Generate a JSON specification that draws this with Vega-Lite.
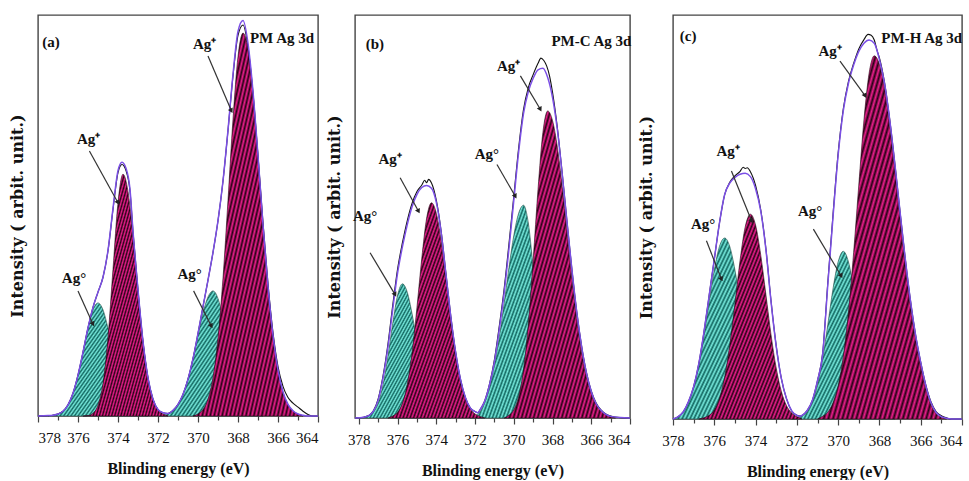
{
"$schema": "https://vega.github.io/schema/vega-lite/v6.json",
"background": "white",
"padding": {"left": 8, "top": 14, "right": 0, "bottom": 0},
"spacing": 3,
"config": {
  "view": {"stroke": "#444", "strokeWidth": 1.4},
  "axis": {"grid": false, "domain": false, "labelFont": "Liberation Serif", "labelFontSize": 15, "labelColor": "#111", "titleFont": "Liberation Serif", "titleFontWeight": "bold", "titleColor": "#111", "tickColor": "#444", "tickWidth": 1.2}
},
"datasets": {
"c": [
{"p":"a","s":"t1","e":377.5,"v":0},{"p":"a","s":"t1","e":377.25,"v":0.2},{"p":"a","s":"t1","e":377,"v":0.5},{"p":"a","s":"t1","e":376.75,"v":1.2},{"p":"a","s":"t1","e":376.5,"v":2.8},{"p":"a","s":"t1","e":376.25,"v":5.7},{"p":"a","s":"t1","e":376,"v":10.2},{"p":"a","s":"t1","e":375.75,"v":15.9},{"p":"a","s":"t1","e":375.5,"v":21.9},{"p":"a","s":"t1","e":375.25,"v":26.5},{"p":"a","s":"t1","e":375,"v":28.2},{"p":"a","s":"t1","e":374.75,"v":26.5},{"p":"a","s":"t1","e":374.5,"v":21.9},{"p":"a","s":"t1","e":374.25,"v":15.9},{"p":"a","s":"t1","e":374,"v":10.2},{"p":"a","s":"t1","e":373.75,"v":5.7},{"p":"a","s":"t1","e":373.5,"v":2.8},{"p":"a","s":"t1","e":373.25,"v":1.2},{"p":"a","s":"t1","e":373,"v":0.5},{"p":"a","s":"t1","e":372.75,"v":0.2},{"p":"a","s":"t1","e":372.5,"v":0},
{"p":"a","s":"m1","e":375.75,"v":0},{"p":"a","s":"m1","e":375.5,"v":0.1},{"p":"a","s":"m1","e":375.25,"v":0.7},{"p":"a","s":"m1","e":375,"v":2.7},{"p":"a","s":"m1","e":374.75,"v":8.1},{"p":"a","s":"m1","e":374.5,"v":19.6},{"p":"a","s":"m1","e":374.25,"v":36.6},{"p":"a","s":"m1","e":374,"v":53.2},{"p":"a","s":"m1","e":373.75,"v":60.3},{"p":"a","s":"m1","e":373.5,"v":56},{"p":"a","s":"m1","e":373.25,"v":44.9},{"p":"a","s":"m1","e":373,"v":31},{"p":"a","s":"m1","e":372.75,"v":18.5},{"p":"a","s":"m1","e":372.5,"v":9.5},{"p":"a","s":"m1","e":372.25,"v":4.2},{"p":"a","s":"m1","e":372,"v":1.6},{"p":"a","s":"m1","e":371.75,"v":0.5},{"p":"a","s":"m1","e":371.5,"v":0},
{"p":"a","s":"t2","e":372,"v":0},{"p":"a","s":"t2","e":371.75,"v":0.2},{"p":"a","s":"t2","e":371.5,"v":0.6},{"p":"a","s":"t2","e":371.25,"v":1.4},{"p":"a","s":"t2","e":371,"v":2.9},{"p":"a","s":"t2","e":370.75,"v":5.4},{"p":"a","s":"t2","e":370.5,"v":9.2},{"p":"a","s":"t2","e":370.25,"v":14.3},{"p":"a","s":"t2","e":370,"v":20.1},{"p":"a","s":"t2","e":369.75,"v":25.7},{"p":"a","s":"t2","e":369.5,"v":29.7},{"p":"a","s":"t2","e":369.25,"v":31.2},{"p":"a","s":"t2","e":369,"v":29.3},{"p":"a","s":"t2","e":368.75,"v":24.2},{"p":"a","s":"t2","e":368.5,"v":17.6},{"p":"a","s":"t2","e":368.25,"v":11.2},{"p":"a","s":"t2","e":368,"v":6.3},{"p":"a","s":"t2","e":367.75,"v":3.1},{"p":"a","s":"t2","e":367.5,"v":1.4},{"p":"a","s":"t2","e":367.25,"v":0.5},{"p":"a","s":"t2","e":367,"v":0.2},{"p":"a","s":"t2","e":366.75,"v":0},
{"p":"a","s":"m2","e":370.25,"v":0},{"p":"a","s":"m2","e":370,"v":0.5},{"p":"a","s":"m2","e":369.75,"v":1.6},{"p":"a","s":"m2","e":369.5,"v":4.2},{"p":"a","s":"m2","e":369.25,"v":9.6},{"p":"a","s":"m2","e":369,"v":19.4},{"p":"a","s":"m2","e":368.75,"v":34.4},{"p":"a","s":"m2","e":368.5,"v":53.8},{"p":"a","s":"m2","e":368.25,"v":74},{"p":"a","s":"m2","e":368,"v":89.6},{"p":"a","s":"m2","e":367.75,"v":95.5},{"p":"a","s":"m2","e":367.5,"v":91.5},{"p":"a","s":"m2","e":367.25,"v":80.3},{"p":"a","s":"m2","e":367,"v":64.8},{"p":"a","s":"m2","e":366.75,"v":47.8},{"p":"a","s":"m2","e":366.5,"v":32.4},{"p":"a","s":"m2","e":366.25,"v":20.2},{"p":"a","s":"m2","e":366,"v":11.5},{"p":"a","s":"m2","e":365.75,"v":6},{"p":"a","s":"m2","e":365.5,"v":2.9},{"p":"a","s":"m2","e":365.25,"v":1.3},{"p":"a","s":"m2","e":365,"v":0.5},{"p":"a","s":"m2","e":364.75,"v":0},
{"p":"a","s":"env","e":378,"v":0},{"p":"a","s":"env","e":377.5,"v":0.1},{"p":"a","s":"env","e":377.25,"v":0.2},{"p":"a","s":"env","e":377,"v":0.5},{"p":"a","s":"env","e":376.75,"v":1.2},{"p":"a","s":"env","e":376.5,"v":2.8},{"p":"a","s":"env","e":376.25,"v":5.7},{"p":"a","s":"env","e":376,"v":10.2},{"p":"a","s":"env","e":375.75,"v":15.9},{"p":"a","s":"env","e":375.5,"v":22},{"p":"a","s":"env","e":375.25,"v":27.1},{"p":"a","s":"env","e":375,"v":30.9},{"p":"a","s":"env","e":374.75,"v":34.6},{"p":"a","s":"env","e":374.5,"v":41.3},{"p":"a","s":"env","e":374.25,"v":51.8},{"p":"a","s":"env","e":374,"v":61.2},{"p":"a","s":"env","e":373.8,"v":63.3},{"p":"a","s":"env","e":373.6,"v":61.8},{"p":"a","s":"env","e":373.4,"v":56.5},{"p":"a","s":"env","e":373.25,"v":46.1},{"p":"a","s":"env","e":373,"v":31.5},{"p":"a","s":"env","e":372.75,"v":18.6},{"p":"a","s":"env","e":372.5,"v":9.5},{"p":"a","s":"env","e":372.25,"v":4.2},{"p":"a","s":"env","e":372,"v":1.6},{"p":"a","s":"env","e":371.75,"v":0.8},{"p":"a","s":"env","e":371.5,"v":0.6},{"p":"a","s":"env","e":371.25,"v":1.4},{"p":"a","s":"env","e":371,"v":2.9},{"p":"a","s":"env","e":370.75,"v":5.4},{"p":"a","s":"env","e":370.5,"v":9.2},{"p":"a","s":"env","e":370.25,"v":14.3},{"p":"a","s":"env","e":370,"v":20.6},{"p":"a","s":"env","e":369.75,"v":27.3},{"p":"a","s":"env","e":369.5,"v":33.9},{"p":"a","s":"env","e":369.25,"v":40.8},{"p":"a","s":"env","e":369,"v":48.7},{"p":"a","s":"env","e":368.75,"v":58.6},{"p":"a","s":"env","e":368.5,"v":71.3},{"p":"a","s":"env","e":368.25,"v":85.2},{"p":"a","s":"env","e":368,"v":95.9},{"p":"a","s":"env","e":367.75,"v":98.6},{"p":"a","s":"env","e":367.5,"v":92.9},{"p":"a","s":"env","e":367.25,"v":80.9},{"p":"a","s":"env","e":367,"v":64.9},{"p":"a","s":"env","e":366.75,"v":47.8},{"p":"a","s":"env","e":366.5,"v":32.4},{"p":"a","s":"env","e":366.25,"v":20.2},{"p":"a","s":"env","e":366,"v":11.5},{"p":"a","s":"env","e":365.75,"v":6},{"p":"a","s":"env","e":365.5,"v":2.9},{"p":"a","s":"env","e":365.25,"v":1.3},{"p":"a","s":"env","e":365,"v":0.5},{"p":"a","s":"env","e":364.75,"v":0.2},{"p":"a","s":"env","e":364.5,"v":0},{"p":"a","s":"env","e":364,"v":0},
{"p":"a","s":"exp","e":378,"v":0},{"p":"a","s":"exp","e":377.5,"v":0.1},{"p":"a","s":"exp","e":377.25,"v":0.2},{"p":"a","s":"exp","e":377,"v":0.5},{"p":"a","s":"exp","e":376.75,"v":1.2},{"p":"a","s":"exp","e":376.5,"v":2.8},{"p":"a","s":"exp","e":376.25,"v":5.7},{"p":"a","s":"exp","e":376,"v":10.2},{"p":"a","s":"exp","e":375.75,"v":15.9},{"p":"a","s":"exp","e":375.5,"v":22},{"p":"a","s":"exp","e":375.25,"v":27.1},{"p":"a","s":"exp","e":375,"v":30.9},{"p":"a","s":"exp","e":374.75,"v":34.6},{"p":"a","s":"exp","e":374.5,"v":41.2},{"p":"a","s":"exp","e":374.25,"v":51.5},{"p":"a","s":"exp","e":374,"v":60.7},{"p":"a","s":"exp","e":373.8,"v":62.7},{"p":"a","s":"exp","e":373.6,"v":61.2},{"p":"a","s":"exp","e":373.4,"v":56.1},{"p":"a","s":"exp","e":373.25,"v":46},{"p":"a","s":"exp","e":373,"v":31.5},{"p":"a","s":"exp","e":372.75,"v":18.6},{"p":"a","s":"exp","e":372.5,"v":9.5},{"p":"a","s":"exp","e":372.25,"v":4.2},{"p":"a","s":"exp","e":372,"v":1.6},{"p":"a","s":"exp","e":371.75,"v":0.8},{"p":"a","s":"exp","e":371.5,"v":0.6},{"p":"a","s":"exp","e":371.25,"v":1.4},{"p":"a","s":"exp","e":371,"v":2.9},{"p":"a","s":"exp","e":370.75,"v":5.4},{"p":"a","s":"exp","e":370.5,"v":9.2},{"p":"a","s":"exp","e":370.25,"v":14.3},{"p":"a","s":"exp","e":370,"v":20.6},{"p":"a","s":"exp","e":369.75,"v":27.3},{"p":"a","s":"exp","e":369.5,"v":33.9},{"p":"a","s":"exp","e":369.25,"v":40.8},{"p":"a","s":"exp","e":369,"v":48.7},{"p":"a","s":"exp","e":368.75,"v":58.6},{"p":"a","s":"exp","e":368.5,"v":71.2},{"p":"a","s":"exp","e":368.25,"v":84.8},{"p":"a","s":"exp","e":368,"v":94.9},{"p":"a","s":"exp","e":367.75,"v":97.5},{"p":"a","s":"exp","e":367.5,"v":92},{"p":"a","s":"exp","e":367.25,"v":80.6},{"p":"a","s":"exp","e":367,"v":65},{"p":"a","s":"exp","e":366.75,"v":48.2},{"p":"a","s":"exp","e":366.5,"v":33},{"p":"a","s":"exp","e":366.25,"v":20.8},{"p":"a","s":"exp","e":366,"v":12.3},{"p":"a","s":"exp","e":365.75,"v":7.4},{"p":"a","s":"exp","e":365.5,"v":4.6},{"p":"a","s":"exp","e":365.25,"v":3.2},{"p":"a","s":"exp","e":365,"v":2.2},{"p":"a","s":"exp","e":364.75,"v":1.2},{"p":"a","s":"exp","e":364.5,"v":0.4},{"p":"a","s":"exp","e":364.25,"v":0},{"p":"a","s":"exp","e":364,"v":0},
{"p":"b","s":"t1","e":378,"v":0},{"p":"b","s":"t1","e":377.75,"v":0.1},{"p":"b","s":"t1","e":377.5,"v":0.5},{"p":"b","s":"t1","e":377.25,"v":1.5},{"p":"b","s":"t1","e":377,"v":3.8},{"p":"b","s":"t1","e":376.75,"v":8.3},{"p":"b","s":"t1","e":376.5,"v":15.3},{"p":"b","s":"t1","e":376.25,"v":23.5},{"p":"b","s":"t1","e":376,"v":30.5},{"p":"b","s":"t1","e":375.75,"v":33.3},{"p":"b","s":"t1","e":375.5,"v":31.2},{"p":"b","s":"t1","e":375.25,"v":25.8},{"p":"b","s":"t1","e":375,"v":18.8},{"p":"b","s":"t1","e":374.75,"v":12},{"p":"b","s":"t1","e":374.5,"v":6.8},{"p":"b","s":"t1","e":374.25,"v":3.4},{"p":"b","s":"t1","e":374,"v":1.5},{"p":"b","s":"t1","e":373.75,"v":0.6},{"p":"b","s":"t1","e":373.5,"v":0.2},{"p":"b","s":"t1","e":373.25,"v":0},
{"p":"b","s":"m1","e":376.5,"v":0},{"p":"b","s":"m1","e":376.25,"v":0.5},{"p":"b","s":"m1","e":376,"v":1.4},{"p":"b","s":"m1","e":375.75,"v":3.7},{"p":"b","s":"m1","e":375.5,"v":8.4},{"p":"b","s":"m1","e":375.25,"v":16.3},{"p":"b","s":"m1","e":375,"v":27.5},{"p":"b","s":"m1","e":374.75,"v":39.7},{"p":"b","s":"m1","e":374.5,"v":49.6},{"p":"b","s":"m1","e":374.25,"v":53.4},{"p":"b","s":"m1","e":374,"v":50.8},{"p":"b","s":"m1","e":373.75,"v":44},{"p":"b","s":"m1","e":373.5,"v":34.4},{"p":"b","s":"m1","e":373.25,"v":24.5},{"p":"b","s":"m1","e":373,"v":15.8},{"p":"b","s":"m1","e":372.75,"v":9.2},{"p":"b","s":"m1","e":372.5,"v":4.9},{"p":"b","s":"m1","e":372.25,"v":2.3},{"p":"b","s":"m1","e":372,"v":1},{"p":"b","s":"m1","e":371.75,"v":0.4},{"p":"b","s":"m1","e":371.5,"v":0},
{"p":"b","s":"t2","e":372.25,"v":0},{"p":"b","s":"t2","e":372,"v":0.5},{"p":"b","s":"t2","e":371.75,"v":1.5},{"p":"b","s":"t2","e":371.5,"v":3.8},{"p":"b","s":"t2","e":371.25,"v":7.6},{"p":"b","s":"t2","e":371,"v":13.2},{"p":"b","s":"t2","e":370.75,"v":20.1},{"p":"b","s":"t2","e":370.5,"v":28.5},{"p":"b","s":"t2","e":370.25,"v":37.3},{"p":"b","s":"t2","e":370,"v":45.3},{"p":"b","s":"t2","e":369.75,"v":50.8},{"p":"b","s":"t2","e":369.5,"v":52.8},{"p":"b","s":"t2","e":369.25,"v":48.4},{"p":"b","s":"t2","e":369,"v":37.3},{"p":"b","s":"t2","e":368.75,"v":24.2},{"p":"b","s":"t2","e":368.5,"v":13.2},{"p":"b","s":"t2","e":368.25,"v":6},{"p":"b","s":"t2","e":368,"v":2.3},{"p":"b","s":"t2","e":367.75,"v":0.8},{"p":"b","s":"t2","e":367.5,"v":0.2},{"p":"b","s":"t2","e":367.25,"v":0},
{"p":"b","s":"m2","e":370.5,"v":0},{"p":"b","s":"m2","e":370.25,"v":0.7},{"p":"b","s":"m2","e":370,"v":2},{"p":"b","s":"m2","e":369.75,"v":5.3},{"p":"b","s":"m2","e":369.5,"v":12},{"p":"b","s":"m2","e":369.25,"v":23.3},{"p":"b","s":"m2","e":369,"v":39.2},{"p":"b","s":"m2","e":368.75,"v":56.7},{"p":"b","s":"m2","e":368.5,"v":70.8},{"p":"b","s":"m2","e":368.25,"v":76.2},{"p":"b","s":"m2","e":368,"v":73.8},{"p":"b","s":"m2","e":367.75,"v":67.2},{"p":"b","s":"m2","e":367.5,"v":57.5},{"p":"b","s":"m2","e":367.25,"v":46.3},{"p":"b","s":"m2","e":367,"v":34.9},{"p":"b","s":"m2","e":366.75,"v":24.8},{"p":"b","s":"m2","e":366.5,"v":16.5},{"p":"b","s":"m2","e":366.25,"v":10.3},{"p":"b","s":"m2","e":366,"v":6.1},{"p":"b","s":"m2","e":365.75,"v":3.4},{"p":"b","s":"m2","e":365.5,"v":1.7},{"p":"b","s":"m2","e":365.25,"v":0.9},{"p":"b","s":"m2","e":365,"v":0.3},{"p":"b","s":"m2","e":364.75,"v":0},
{"p":"b","s":"env","e":378.2,"v":0},{"p":"b","s":"env","e":377.75,"v":0.2},{"p":"b","s":"env","e":377.5,"v":0.6},{"p":"b","s":"env","e":377.25,"v":1.7},{"p":"b","s":"env","e":377,"v":4.5},{"p":"b","s":"env","e":376.75,"v":10},{"p":"b","s":"env","e":376.5,"v":17.5},{"p":"b","s":"env","e":376.25,"v":27},{"p":"b","s":"env","e":376,"v":36},{"p":"b","s":"env","e":375.75,"v":42.5},{"p":"b","s":"env","e":375.5,"v":48},{"p":"b","s":"env","e":375.25,"v":52.5},{"p":"b","s":"env","e":375,"v":55.5},{"p":"b","s":"env","e":374.75,"v":57.2},{"p":"b","s":"env","e":374.5,"v":57.7},{"p":"b","s":"env","e":374.25,"v":57},{"p":"b","s":"env","e":374,"v":53.5},{"p":"b","s":"env","e":373.75,"v":46},{"p":"b","s":"env","e":373.5,"v":35.5},{"p":"b","s":"env","e":373.25,"v":25},{"p":"b","s":"env","e":373,"v":16.2},{"p":"b","s":"env","e":372.75,"v":9.5},{"p":"b","s":"env","e":372.5,"v":5.1},{"p":"b","s":"env","e":372.25,"v":2.5},{"p":"b","s":"env","e":372,"v":1.6},{"p":"b","s":"env","e":371.85,"v":1.3},{"p":"b","s":"env","e":371.75,"v":2},{"p":"b","s":"env","e":371.5,"v":4.2},{"p":"b","s":"env","e":371.25,"v":8.3},{"p":"b","s":"env","e":371,"v":14},{"p":"b","s":"env","e":370.75,"v":22},{"p":"b","s":"env","e":370.5,"v":31},{"p":"b","s":"env","e":370.25,"v":42},{"p":"b","s":"env","e":370,"v":54},{"p":"b","s":"env","e":369.75,"v":66},{"p":"b","s":"env","e":369.5,"v":75.5},{"p":"b","s":"env","e":369.25,"v":81},{"p":"b","s":"env","e":369,"v":84.3},{"p":"b","s":"env","e":368.75,"v":86.4},{"p":"b","s":"env","e":368.5,"v":86.8},{"p":"b","s":"env","e":368.25,"v":84.5},{"p":"b","s":"env","e":368,"v":79.5},{"p":"b","s":"env","e":367.75,"v":71.5},{"p":"b","s":"env","e":367.5,"v":60.5},{"p":"b","s":"env","e":367.25,"v":48.5},{"p":"b","s":"env","e":367,"v":36.8},{"p":"b","s":"env","e":366.75,"v":26.3},{"p":"b","s":"env","e":366.5,"v":17.8},{"p":"b","s":"env","e":366.25,"v":11.2},{"p":"b","s":"env","e":366,"v":6.6},{"p":"b","s":"env","e":365.75,"v":3.6},{"p":"b","s":"env","e":365.5,"v":1.9},{"p":"b","s":"env","e":365.25,"v":0.9},{"p":"b","s":"env","e":365,"v":0.4},{"p":"b","s":"env","e":364.5,"v":0.1},{"p":"b","s":"env","e":364,"v":0},
{"p":"b","s":"exp","e":378.2,"v":0},{"p":"b","s":"exp","e":377.75,"v":0.2},{"p":"b","s":"exp","e":377.5,"v":0.6},{"p":"b","s":"exp","e":377.25,"v":1.8},{"p":"b","s":"exp","e":377,"v":4.8},{"p":"b","s":"exp","e":376.75,"v":10.5},{"p":"b","s":"exp","e":376.5,"v":18.3},{"p":"b","s":"exp","e":376.25,"v":28},{"p":"b","s":"exp","e":376,"v":37},{"p":"b","s":"exp","e":375.75,"v":43.5},{"p":"b","s":"exp","e":375.5,"v":49},{"p":"b","s":"exp","e":375.25,"v":53.3},{"p":"b","s":"exp","e":375,"v":56.2},{"p":"b","s":"exp","e":374.75,"v":57.8},{"p":"b","s":"exp","e":374.6,"v":59},{"p":"b","s":"exp","e":374.5,"v":58.4},{"p":"b","s":"exp","e":374.4,"v":59.2},{"p":"b","s":"exp","e":374.25,"v":58.3},{"p":"b","s":"exp","e":374,"v":54},{"p":"b","s":"exp","e":373.75,"v":46.3},{"p":"b","s":"exp","e":373.5,"v":35.7},{"p":"b","s":"exp","e":373.25,"v":25.2},{"p":"b","s":"exp","e":373,"v":16.3},{"p":"b","s":"exp","e":372.75,"v":9.6},{"p":"b","s":"exp","e":372.5,"v":5.1},{"p":"b","s":"exp","e":372.25,"v":2.5},{"p":"b","s":"exp","e":372,"v":1.6},{"p":"b","s":"exp","e":371.85,"v":1.3},{"p":"b","s":"exp","e":371.75,"v":2},{"p":"b","s":"exp","e":371.5,"v":4.3},{"p":"b","s":"exp","e":371.25,"v":8.5},{"p":"b","s":"exp","e":371,"v":14.5},{"p":"b","s":"exp","e":370.75,"v":22.8},{"p":"b","s":"exp","e":370.5,"v":32},{"p":"b","s":"exp","e":370.25,"v":43.2},{"p":"b","s":"exp","e":370,"v":55},{"p":"b","s":"exp","e":369.75,"v":67},{"p":"b","s":"exp","e":369.5,"v":76.5},{"p":"b","s":"exp","e":369.25,"v":82},{"p":"b","s":"exp","e":369,"v":85.2},{"p":"b","s":"exp","e":368.75,"v":88},{"p":"b","s":"exp","e":368.6,"v":89.3},{"p":"b","s":"exp","e":368.45,"v":88.7},{"p":"b","s":"exp","e":368.3,"v":87.3},{"p":"b","s":"exp","e":368.15,"v":84.8},{"p":"b","s":"exp","e":368,"v":80.8},{"p":"b","s":"exp","e":367.75,"v":72},{"p":"b","s":"exp","e":367.5,"v":60.7},{"p":"b","s":"exp","e":367.25,"v":48.6},{"p":"b","s":"exp","e":367,"v":36.9},{"p":"b","s":"exp","e":366.75,"v":26.4},{"p":"b","s":"exp","e":366.5,"v":17.9},{"p":"b","s":"exp","e":366.25,"v":11.3},{"p":"b","s":"exp","e":366,"v":6.7},{"p":"b","s":"exp","e":365.75,"v":3.7},{"p":"b","s":"exp","e":365.5,"v":2},{"p":"b","s":"exp","e":365.25,"v":1},{"p":"b","s":"exp","e":365,"v":0.5},{"p":"b","s":"exp","e":364.5,"v":0.1},{"p":"b","s":"exp","e":364,"v":0},
{"p":"c","s":"t1","e":378,"v":0},{"p":"c","s":"t1","e":377.75,"v":0.5},{"p":"c","s":"t1","e":377.5,"v":1.7},{"p":"c","s":"t1","e":377.25,"v":4},{"p":"c","s":"t1","e":377,"v":7.7},{"p":"c","s":"t1","e":376.75,"v":13.2},{"p":"c","s":"t1","e":376.5,"v":20.5},{"p":"c","s":"t1","e":376.25,"v":28.9},{"p":"c","s":"t1","e":376,"v":36.9},{"p":"c","s":"t1","e":375.75,"v":42.7},{"p":"c","s":"t1","e":375.5,"v":44.8},{"p":"c","s":"t1","e":375.25,"v":42.7},{"p":"c","s":"t1","e":375,"v":36.9},{"p":"c","s":"t1","e":374.75,"v":28.9},{"p":"c","s":"t1","e":374.5,"v":20.5},{"p":"c","s":"t1","e":374.25,"v":13.2},{"p":"c","s":"t1","e":374,"v":7.7},{"p":"c","s":"t1","e":373.75,"v":4.1},{"p":"c","s":"t1","e":373.5,"v":2},{"p":"c","s":"t1","e":373.25,"v":0.9},{"p":"c","s":"t1","e":373,"v":0.3},{"p":"c","s":"t1","e":372.75,"v":0},
{"p":"c","s":"m1","e":376.75,"v":0},{"p":"c","s":"m1","e":376.5,"v":0.3},{"p":"c","s":"m1","e":376.25,"v":0.9},{"p":"c","s":"m1","e":376,"v":2.2},{"p":"c","s":"m1","e":375.75,"v":5.1},{"p":"c","s":"m1","e":375.5,"v":10.3},{"p":"c","s":"m1","e":375.25,"v":18.3},{"p":"c","s":"m1","e":375,"v":28.5},{"p":"c","s":"m1","e":374.75,"v":39.3},{"p":"c","s":"m1","e":374.5,"v":47.6},{"p":"c","s":"m1","e":374.25,"v":50.7},{"p":"c","s":"m1","e":374,"v":48},{"p":"c","s":"m1","e":373.75,"v":40.6},{"p":"c","s":"m1","e":373.5,"v":30.8},{"p":"c","s":"m1","e":373.25,"v":20.8},{"p":"c","s":"m1","e":373,"v":12.6},{"p":"c","s":"m1","e":372.75,"v":6.8},{"p":"c","s":"m1","e":372.5,"v":3.3},{"p":"c","s":"m1","e":372.25,"v":1.5},{"p":"c","s":"m1","e":372,"v":0.6},{"p":"c","s":"m1","e":371.75,"v":0},
{"p":"c","s":"t2","e":372.25,"v":0},{"p":"c","s":"t2","e":372,"v":0.2},{"p":"c","s":"t2","e":371.75,"v":0.7},{"p":"c","s":"t2","e":371.5,"v":1.8},{"p":"c","s":"t2","e":371.25,"v":4.2},{"p":"c","s":"t2","e":371,"v":8.4},{"p":"c","s":"t2","e":370.75,"v":14.9},{"p":"c","s":"t2","e":370.5,"v":23.4},{"p":"c","s":"t2","e":370.25,"v":32.2},{"p":"c","s":"t2","e":370,"v":38.9},{"p":"c","s":"t2","e":369.75,"v":41.5},{"p":"c","s":"t2","e":369.5,"v":38.9},{"p":"c","s":"t2","e":369.25,"v":32.2},{"p":"c","s":"t2","e":369,"v":23.4},{"p":"c","s":"t2","e":368.75,"v":14.9},{"p":"c","s":"t2","e":368.5,"v":8.4},{"p":"c","s":"t2","e":368.25,"v":4.2},{"p":"c","s":"t2","e":368,"v":1.8},{"p":"c","s":"t2","e":367.75,"v":0.7},{"p":"c","s":"t2","e":367.5,"v":0.2},{"p":"c","s":"t2","e":367.25,"v":0},
{"p":"c","s":"m2","e":371,"v":0},{"p":"c","s":"m2","e":370.75,"v":0.7},{"p":"c","s":"m2","e":370.5,"v":1.7},{"p":"c","s":"m2","e":370.25,"v":4},{"p":"c","s":"m2","e":370,"v":8.2},{"p":"c","s":"m2","e":369.75,"v":15.5},{"p":"c","s":"m2","e":369.5,"v":26.5},{"p":"c","s":"m2","e":369.25,"v":41.2},{"p":"c","s":"m2","e":369,"v":57.9},{"p":"c","s":"m2","e":368.75,"v":74},{"p":"c","s":"m2","e":368.5,"v":85.6},{"p":"c","s":"m2","e":368.25,"v":89.9},{"p":"c","s":"m2","e":368,"v":87.8},{"p":"c","s":"m2","e":367.75,"v":81.8},{"p":"c","s":"m2","e":367.5,"v":72.6},{"p":"c","s":"m2","e":367.25,"v":61.6},{"p":"c","s":"m2","e":367,"v":49.8},{"p":"c","s":"m2","e":366.75,"v":38.4},{"p":"c","s":"m2","e":366.5,"v":28.2},{"p":"c","s":"m2","e":366.25,"v":19.8},{"p":"c","s":"m2","e":366,"v":13.3},{"p":"c","s":"m2","e":365.75,"v":7.5},{"p":"c","s":"m2","e":365.5,"v":3.5},{"p":"c","s":"m2","e":365.25,"v":1.3},{"p":"c","s":"m2","e":365,"v":0.4},{"p":"c","s":"m2","e":364.75,"v":0},
{"p":"c","s":"env","e":378,"v":0},{"p":"c","s":"env","e":377.75,"v":0.6},{"p":"c","s":"env","e":377.5,"v":1.8},{"p":"c","s":"env","e":377.25,"v":4.3},{"p":"c","s":"env","e":377,"v":8},{"p":"c","s":"env","e":376.75,"v":13.7},{"p":"c","s":"env","e":376.5,"v":21.5},{"p":"c","s":"env","e":376.25,"v":30.5},{"p":"c","s":"env","e":376,"v":39.5},{"p":"c","s":"env","e":375.75,"v":48.5},{"p":"c","s":"env","e":375.5,"v":55.5},{"p":"c","s":"env","e":375.25,"v":58.4},{"p":"c","s":"env","e":375,"v":59.8},{"p":"c","s":"env","e":374.75,"v":60.6},{"p":"c","s":"env","e":374.5,"v":60.8},{"p":"c","s":"env","e":374.25,"v":60},{"p":"c","s":"env","e":374,"v":57},{"p":"c","s":"env","e":373.75,"v":51.5},{"p":"c","s":"env","e":373.5,"v":42},{"p":"c","s":"env","e":373.25,"v":29},{"p":"c","s":"env","e":373,"v":18},{"p":"c","s":"env","e":372.75,"v":10},{"p":"c","s":"env","e":372.5,"v":5},{"p":"c","s":"env","e":372.25,"v":2},{"p":"c","s":"env","e":372,"v":0.9},{"p":"c","s":"env","e":371.85,"v":0.7},{"p":"c","s":"env","e":371.75,"v":0.9},{"p":"c","s":"env","e":371.5,"v":2.1},{"p":"c","s":"env","e":371.25,"v":4.6},{"p":"c","s":"env","e":371,"v":9.5},{"p":"c","s":"env","e":370.75,"v":16},{"p":"c","s":"env","e":370.5,"v":33.3},{"p":"c","s":"env","e":370.25,"v":49.9},{"p":"c","s":"env","e":370,"v":65.3},{"p":"c","s":"env","e":369.75,"v":76.3},{"p":"c","s":"env","e":369.5,"v":83.1},{"p":"c","s":"env","e":369.25,"v":87.6},{"p":"c","s":"env","e":369,"v":91},{"p":"c","s":"env","e":368.75,"v":93},{"p":"c","s":"env","e":368.5,"v":93.8},{"p":"c","s":"env","e":368.25,"v":93},{"p":"c","s":"env","e":368,"v":89},{"p":"c","s":"env","e":367.75,"v":83},{"p":"c","s":"env","e":367.5,"v":74},{"p":"c","s":"env","e":367.25,"v":63},{"p":"c","s":"env","e":367,"v":51.2},{"p":"c","s":"env","e":366.75,"v":39.7},{"p":"c","s":"env","e":366.5,"v":29.4},{"p":"c","s":"env","e":366.25,"v":20.8},{"p":"c","s":"env","e":366,"v":14},{"p":"c","s":"env","e":365.75,"v":8.2},{"p":"c","s":"env","e":365.5,"v":4},{"p":"c","s":"env","e":365.25,"v":1.6},{"p":"c","s":"env","e":365,"v":0.6},{"p":"c","s":"env","e":364.75,"v":0.2},{"p":"c","s":"env","e":364.5,"v":0},{"p":"c","s":"env","e":364,"v":0},
{"p":"c","s":"exp","e":378,"v":0},{"p":"c","s":"exp","e":377.75,"v":0.6},{"p":"c","s":"exp","e":377.5,"v":1.8},{"p":"c","s":"exp","e":377.25,"v":4.3},{"p":"c","s":"exp","e":377,"v":8},{"p":"c","s":"exp","e":376.75,"v":13.7},{"p":"c","s":"exp","e":376.5,"v":21.5},{"p":"c","s":"exp","e":376.25,"v":30.5},{"p":"c","s":"exp","e":376,"v":39.5},{"p":"c","s":"exp","e":375.75,"v":48.5},{"p":"c","s":"exp","e":375.5,"v":55.5},{"p":"c","s":"exp","e":375.25,"v":58.6},{"p":"c","s":"exp","e":375,"v":60.2},{"p":"c","s":"exp","e":374.75,"v":61.3},{"p":"c","s":"exp","e":374.6,"v":62.3},{"p":"c","s":"exp","e":374.5,"v":62},{"p":"c","s":"exp","e":374.4,"v":62.2},{"p":"c","s":"exp","e":374.25,"v":61.2},{"p":"c","s":"exp","e":374,"v":57.8},{"p":"c","s":"exp","e":373.75,"v":51.8},{"p":"c","s":"exp","e":373.5,"v":42.2},{"p":"c","s":"exp","e":373.25,"v":29.2},{"p":"c","s":"exp","e":373,"v":18.1},{"p":"c","s":"exp","e":372.75,"v":10},{"p":"c","s":"exp","e":372.5,"v":5},{"p":"c","s":"exp","e":372.25,"v":2},{"p":"c","s":"exp","e":372,"v":0.9},{"p":"c","s":"exp","e":371.85,"v":0.7},{"p":"c","s":"exp","e":371.75,"v":0.9},{"p":"c","s":"exp","e":371.5,"v":2.1},{"p":"c","s":"exp","e":371.25,"v":4.6},{"p":"c","s":"exp","e":371,"v":9.5},{"p":"c","s":"exp","e":370.75,"v":16.3},{"p":"c","s":"exp","e":370.5,"v":33.8},{"p":"c","s":"exp","e":370.25,"v":50.5},{"p":"c","s":"exp","e":370,"v":65.8},{"p":"c","s":"exp","e":369.75,"v":76.8},{"p":"c","s":"exp","e":369.5,"v":83.6},{"p":"c","s":"exp","e":369.25,"v":88},{"p":"c","s":"exp","e":369,"v":91.6},{"p":"c","s":"exp","e":368.75,"v":93.9},{"p":"c","s":"exp","e":368.55,"v":95.2},{"p":"c","s":"exp","e":368.4,"v":95},{"p":"c","s":"exp","e":368.25,"v":93.8},{"p":"c","s":"exp","e":368.1,"v":91},{"p":"c","s":"exp","e":368,"v":89.4},{"p":"c","s":"exp","e":367.75,"v":83.2},{"p":"c","s":"exp","e":367.5,"v":74.1},{"p":"c","s":"exp","e":367.25,"v":63.1},{"p":"c","s":"exp","e":367,"v":51.3},{"p":"c","s":"exp","e":366.75,"v":39.8},{"p":"c","s":"exp","e":366.5,"v":29.5},{"p":"c","s":"exp","e":366.25,"v":20.9},{"p":"c","s":"exp","e":366,"v":14.1},{"p":"c","s":"exp","e":365.75,"v":8.4},{"p":"c","s":"exp","e":365.5,"v":4.2},{"p":"c","s":"exp","e":365.25,"v":1.8},{"p":"c","s":"exp","e":365,"v":0.8},{"p":"c","s":"exp","e":364.75,"v":0.3},{"p":"c","s":"exp","e":364.6,"v":0},{"p":"c","s":"exp","e":364,"v":0}
],
"n": [
{"p":"a","t":"(a)","e":377.35,"v":93.3},{"p":"a","t":"PM Ag 3d","e":365.8,"v":94.3},{"p":"a","t":"Ag⁺","e":369.67,"v":92.8},{"p":"a","t":"Ag⁺","e":375.47,"v":69},{"p":"a","t":"Ag°","e":376.2,"v":34.5},{"p":"a","t":"Ag°","e":370.42,"v":35.3},
{"p":"b","t":"(b)","e":377.17,"v":92.7},{"p":"b","t":"PM-C Ag 3d","e":365.99,"v":93.5},{"p":"b","t":"Ag⁺","e":370.27,"v":87.3},{"p":"b","t":"Ag°","e":371.39,"v":65.4},{"p":"b","t":"Ag⁺","e":376.39,"v":64.2},{"p":"b","t":"Ag°","e":377.68,"v":50.1},
{"p":"c","t":"(c)","e":377.27,"v":94.8},{"p":"c","t":"PM-H Ag 3d","e":365.95,"v":94.4},{"p":"c","t":"Ag⁺","e":370.39,"v":91.1},{"p":"c","t":"Ag°","e":371.36,"v":51.5},{"p":"c","t":"Ag⁺","e":375.33,"v":66.4},{"p":"c","t":"Ag°","e":376.54,"v":48.2}
],
"r": [
{"p":"a","e":369.5,"v":89.8,"e2":368.33,"v2":76.1},{"p":"a","e":375.43,"v":66.1,"e2":374.0,"v2":53.2},{"p":"a","e":376.0,"v":31.2,"e2":375.25,"v2":22.9},{"p":"a","e":370.22,"v":31.2,"e2":369.33,"v2":22.4},
{"p":"b","e":369.66,"v":84.9,"e2":368.63,"v2":76.6},{"p":"b","e":370.87,"v":62.9,"e2":369.92,"v2":55.0},{"p":"b","e":375.87,"v":59.6,"e2":374.92,"v2":51.3},{"p":"b","e":377.42,"v":41.0,"e2":376.13,"v2":30.6},
{"p":"c","e":369.91,"v":88.6,"e2":368.69,"v2":80.0},{"p":"c","e":371.2,"v":47.0,"e2":369.85,"v2":35.4},{"p":"c","e":375.17,"v":61.4,"e2":374.19,"v2":49.0},{"p":"c","e":376.38,"v":44.1,"e2":375.65,"v2":34.6}
]
},
"hconcat": [
{
 "width": 280, "height": 401,
 "encoding": {
  "x": {"field":"e","type":"quantitative","scale":{"domain":[378,364],"nice":false,"zero":false},"axis":{"title":"Blinding energy (eV)","values":[364,365,366,367,368,369,370,371,372,373,374,375,376,377,378],"labelExpr":"datum.value % 2 === 0 ? datum.label : ''","format":"d","tickSize":{"condition":{"test":"datum.value % 2 === 0","value":6},"value":4},"labelPadding":8,"titlePadding":15,"titleFontSize":16,"labelFont":"Liberation Serif","titleFont":"Liberation Serif","labelOverlap":false}},
  "y": {"field":"v","type":"quantitative","stack":null,"scale":{"domain":[0,100],"nice":false},"axis":{"title":"Intensity ( arbit. unit.)","labels":false,"ticks":false,"titleFont":"DejaVu Serif","titleFontSize":16,"titlePadding":13}}
 },
 "layer": [
  {"data":{"name":"c"},"transform":[{"filter":"datum.p==='a' && (datum.s==='t1' || datum.s==='t2')"}],"mark":{"type":"area","interpolate":"monotone","stroke":"#1f4a45","strokeWidth":0.6,"fill":{"gradient":"linear","x1":0,"y1":0,"x2":1.1,"y2":0.88,"stops":[{"offset":0,"color":"#78ebde"},{"offset":0.01,"color":"#10655e"},{"offset":0.02,"color":"#78ebde"},{"offset":0.03,"color":"#10655e"},{"offset":0.04,"color":"#78ebde"},{"offset":0.05,"color":"#10655e"},{"offset":0.06,"color":"#78ebde"},{"offset":0.07,"color":"#10655e"},{"offset":0.08,"color":"#78ebde"},{"offset":0.09,"color":"#10655e"},{"offset":0.1,"color":"#78ebde"},{"offset":0.11,"color":"#10655e"},{"offset":0.12,"color":"#78ebde"},{"offset":0.13,"color":"#10655e"},{"offset":0.14,"color":"#78ebde"},{"offset":0.15,"color":"#10655e"},{"offset":0.16,"color":"#78ebde"},{"offset":0.17,"color":"#10655e"},{"offset":0.18,"color":"#78ebde"},{"offset":0.19,"color":"#10655e"},{"offset":0.2,"color":"#78ebde"},{"offset":0.21,"color":"#10655e"},{"offset":0.22,"color":"#78ebde"},{"offset":0.23,"color":"#10655e"},{"offset":0.24,"color":"#78ebde"},{"offset":0.25,"color":"#10655e"},{"offset":0.26,"color":"#78ebde"},{"offset":0.27,"color":"#10655e"},{"offset":0.28,"color":"#78ebde"},{"offset":0.29,"color":"#10655e"},{"offset":0.3,"color":"#78ebde"},{"offset":0.31,"color":"#10655e"},{"offset":0.32,"color":"#78ebde"},{"offset":0.33,"color":"#10655e"},{"offset":0.34,"color":"#78ebde"},{"offset":0.35,"color":"#10655e"},{"offset":0.36,"color":"#78ebde"},{"offset":0.37,"color":"#10655e"},{"offset":0.38,"color":"#78ebde"},{"offset":0.39,"color":"#10655e"},{"offset":0.4,"color":"#78ebde"},{"offset":0.41,"color":"#10655e"},{"offset":0.42,"color":"#78ebde"},{"offset":0.43,"color":"#10655e"},{"offset":0.44,"color":"#78ebde"},{"offset":0.45,"color":"#10655e"},{"offset":0.46,"color":"#78ebde"},{"offset":0.47,"color":"#10655e"},{"offset":0.48,"color":"#78ebde"},{"offset":0.49,"color":"#10655e"},{"offset":0.5,"color":"#78ebde"},{"offset":0.51,"color":"#10655e"},{"offset":0.52,"color":"#78ebde"},{"offset":0.53,"color":"#10655e"},{"offset":0.54,"color":"#78ebde"},{"offset":0.55,"color":"#10655e"},{"offset":0.56,"color":"#78ebde"},{"offset":0.57,"color":"#10655e"},{"offset":0.58,"color":"#78ebde"},{"offset":0.59,"color":"#10655e"},{"offset":0.6,"color":"#78ebde"},{"offset":0.61,"color":"#10655e"},{"offset":0.62,"color":"#78ebde"},{"offset":0.63,"color":"#10655e"},{"offset":0.64,"color":"#78ebde"},{"offset":0.65,"color":"#10655e"},{"offset":0.66,"color":"#78ebde"},{"offset":0.67,"color":"#10655e"},{"offset":0.68,"color":"#78ebde"},{"offset":0.69,"color":"#10655e"},{"offset":0.7,"color":"#78ebde"},{"offset":0.71,"color":"#10655e"},{"offset":0.72,"color":"#78ebde"},{"offset":0.73,"color":"#10655e"},{"offset":0.74,"color":"#78ebde"},{"offset":0.75,"color":"#10655e"},{"offset":0.76,"color":"#78ebde"},{"offset":0.77,"color":"#10655e"},{"offset":0.78,"color":"#78ebde"},{"offset":0.79,"color":"#10655e"},{"offset":0.8,"color":"#78ebde"},{"offset":0.81,"color":"#10655e"},{"offset":0.82,"color":"#78ebde"},{"offset":0.83,"color":"#10655e"},{"offset":0.84,"color":"#78ebde"},{"offset":0.85,"color":"#10655e"},{"offset":0.86,"color":"#78ebde"},{"offset":0.87,"color":"#10655e"},{"offset":0.88,"color":"#78ebde"},{"offset":0.89,"color":"#10655e"},{"offset":0.9,"color":"#78ebde"},{"offset":0.91,"color":"#10655e"},{"offset":0.92,"color":"#78ebde"},{"offset":0.93,"color":"#10655e"},{"offset":0.94,"color":"#78ebde"},{"offset":0.95,"color":"#10655e"},{"offset":0.96,"color":"#78ebde"},{"offset":0.97,"color":"#10655e"},{"offset":0.98,"color":"#78ebde"},{"offset":0.99,"color":"#10655e"},{"offset":1,"color":"#78ebde"}]}},"encoding":{"detail":{"field":"s"}}},
  {"data":{"name":"c"},"transform":[{"filter":"datum.p==='a' && (datum.s==='m1' || datum.s==='m2')"}],"mark":{"type":"area","interpolate":"monotone","stroke":"#2a0518","strokeWidth":0.6,"fill":{"gradient":"linear","x1":0,"y1":0,"x2":1.1,"y2":0.88,"stops":[{"offset":0,"color":"#eb1e8c"},{"offset":0.01,"color":"#250214"},{"offset":0.02,"color":"#eb1e8c"},{"offset":0.03,"color":"#250214"},{"offset":0.04,"color":"#eb1e8c"},{"offset":0.05,"color":"#250214"},{"offset":0.06,"color":"#eb1e8c"},{"offset":0.07,"color":"#250214"},{"offset":0.08,"color":"#eb1e8c"},{"offset":0.09,"color":"#250214"},{"offset":0.1,"color":"#eb1e8c"},{"offset":0.11,"color":"#250214"},{"offset":0.12,"color":"#eb1e8c"},{"offset":0.13,"color":"#250214"},{"offset":0.14,"color":"#eb1e8c"},{"offset":0.15,"color":"#250214"},{"offset":0.16,"color":"#eb1e8c"},{"offset":0.17,"color":"#250214"},{"offset":0.18,"color":"#eb1e8c"},{"offset":0.19,"color":"#250214"},{"offset":0.2,"color":"#eb1e8c"},{"offset":0.21,"color":"#250214"},{"offset":0.22,"color":"#eb1e8c"},{"offset":0.23,"color":"#250214"},{"offset":0.24,"color":"#eb1e8c"},{"offset":0.25,"color":"#250214"},{"offset":0.26,"color":"#eb1e8c"},{"offset":0.27,"color":"#250214"},{"offset":0.28,"color":"#eb1e8c"},{"offset":0.29,"color":"#250214"},{"offset":0.3,"color":"#eb1e8c"},{"offset":0.31,"color":"#250214"},{"offset":0.32,"color":"#eb1e8c"},{"offset":0.33,"color":"#250214"},{"offset":0.34,"color":"#eb1e8c"},{"offset":0.35,"color":"#250214"},{"offset":0.36,"color":"#eb1e8c"},{"offset":0.37,"color":"#250214"},{"offset":0.38,"color":"#eb1e8c"},{"offset":0.39,"color":"#250214"},{"offset":0.4,"color":"#eb1e8c"},{"offset":0.41,"color":"#250214"},{"offset":0.42,"color":"#eb1e8c"},{"offset":0.43,"color":"#250214"},{"offset":0.44,"color":"#eb1e8c"},{"offset":0.45,"color":"#250214"},{"offset":0.46,"color":"#eb1e8c"},{"offset":0.47,"color":"#250214"},{"offset":0.48,"color":"#eb1e8c"},{"offset":0.49,"color":"#250214"},{"offset":0.5,"color":"#eb1e8c"},{"offset":0.51,"color":"#250214"},{"offset":0.52,"color":"#eb1e8c"},{"offset":0.53,"color":"#250214"},{"offset":0.54,"color":"#eb1e8c"},{"offset":0.55,"color":"#250214"},{"offset":0.56,"color":"#eb1e8c"},{"offset":0.57,"color":"#250214"},{"offset":0.58,"color":"#eb1e8c"},{"offset":0.59,"color":"#250214"},{"offset":0.6,"color":"#eb1e8c"},{"offset":0.61,"color":"#250214"},{"offset":0.62,"color":"#eb1e8c"},{"offset":0.63,"color":"#250214"},{"offset":0.64,"color":"#eb1e8c"},{"offset":0.65,"color":"#250214"},{"offset":0.66,"color":"#eb1e8c"},{"offset":0.67,"color":"#250214"},{"offset":0.68,"color":"#eb1e8c"},{"offset":0.69,"color":"#250214"},{"offset":0.7,"color":"#eb1e8c"},{"offset":0.71,"color":"#250214"},{"offset":0.72,"color":"#eb1e8c"},{"offset":0.73,"color":"#250214"},{"offset":0.74,"color":"#eb1e8c"},{"offset":0.75,"color":"#250214"},{"offset":0.76,"color":"#eb1e8c"},{"offset":0.77,"color":"#250214"},{"offset":0.78,"color":"#eb1e8c"},{"offset":0.79,"color":"#250214"},{"offset":0.8,"color":"#eb1e8c"},{"offset":0.81,"color":"#250214"},{"offset":0.82,"color":"#eb1e8c"},{"offset":0.83,"color":"#250214"},{"offset":0.84,"color":"#eb1e8c"},{"offset":0.85,"color":"#250214"},{"offset":0.86,"color":"#eb1e8c"},{"offset":0.87,"color":"#250214"},{"offset":0.88,"color":"#eb1e8c"},{"offset":0.89,"color":"#250214"},{"offset":0.9,"color":"#eb1e8c"},{"offset":0.91,"color":"#250214"},{"offset":0.92,"color":"#eb1e8c"},{"offset":0.93,"color":"#250214"},{"offset":0.94,"color":"#eb1e8c"},{"offset":0.95,"color":"#250214"},{"offset":0.96,"color":"#eb1e8c"},{"offset":0.97,"color":"#250214"},{"offset":0.98,"color":"#eb1e8c"},{"offset":0.99,"color":"#250214"},{"offset":1,"color":"#eb1e8c"}]}},"encoding":{"detail":{"field":"s"}}},
  {"data":{"name":"c"},"transform":[{"filter":"datum.p==='a' && datum.s==='exp'"}],"mark":{"type":"line","interpolate":"monotone","color":"#111","strokeWidth":1.1},"encoding":{}},
  {"data":{"name":"c"},"transform":[{"filter":"datum.p==='a' && datum.s==='env'"}],"mark":{"type":"line","interpolate":"monotone","color":"#7b4fe6","strokeWidth":1.5},"encoding":{}},
  {"data":{"name":"r"},"transform":[{"filter":"datum.p==='a'"}],"mark":{"type":"rule","color":"#333","strokeWidth":1.2},"encoding":{"x2":{"field":"e2"},"y2":{"field":"v2"}}},
  {"data":{"name":"r"},"transform":[{"filter":"datum.p==='a'"}],"mark":{"type":"point","shape":"triangle-down","filled":true,"color":"#222","opacity":1,"size":30,"angle":332},"encoding":{"x":{"field":"e2","type":"quantitative","title":"Blinding energy (eV)","scale":{"domain":[378,364],"nice":false,"zero":false}},"y":{"field":"v2","type":"quantitative","title":"Intensity ( arbit. unit.)","scale":{"domain":[0,100],"nice":false}}}},
  {"data":{"name":"n"},"transform":[{"filter":"datum.p==='a'"}],"mark":{"type":"text","font":"Liberation Serif","fontWeight":"bold","fontSize":15,"color":"#111"},"encoding":{"text":{"field":"t"}}}
 ]
},
{
 "width": 275, "height": 403,
 "encoding": {
  "x": {"field":"e","type":"quantitative","scale":{"domain":[378.2,364],"nice":false,"zero":false},"axis":{"title":"Blinding energy (eV)","values":[364,365,366,367,368,369,370,371,372,373,374,375,376,377,378],"labelExpr":"datum.value % 2 === 0 ? datum.label : ''","format":"d","tickSize":{"condition":{"test":"datum.value % 2 === 0","value":6},"value":4},"labelPadding":8,"titlePadding":15,"titleFontSize":16,"labelFont":"Liberation Serif","titleFont":"Liberation Serif","labelOverlap":false}},
  "y": {"field":"v","type":"quantitative","stack":null,"scale":{"domain":[0,100],"nice":false},"axis":{"title":"Intensity ( arbit. unit.)","labels":false,"ticks":false,"titleFont":"DejaVu Serif","titleFontSize":16,"titlePadding":12.5}}
 },
 "layer": [
  {"data":{"name":"c"},"transform":[{"filter":"datum.p==='b' && (datum.s==='t1' || datum.s==='t2')"}],"mark":{"type":"area","interpolate":"monotone","stroke":"#1f4a45","strokeWidth":0.6,"fill":{"gradient":"linear","x1":0,"y1":0,"x2":1.1,"y2":0.88,"stops":[{"offset":0,"color":"#78ebde"},{"offset":0.01,"color":"#10655e"},{"offset":0.02,"color":"#78ebde"},{"offset":0.03,"color":"#10655e"},{"offset":0.04,"color":"#78ebde"},{"offset":0.05,"color":"#10655e"},{"offset":0.06,"color":"#78ebde"},{"offset":0.07,"color":"#10655e"},{"offset":0.08,"color":"#78ebde"},{"offset":0.09,"color":"#10655e"},{"offset":0.1,"color":"#78ebde"},{"offset":0.11,"color":"#10655e"},{"offset":0.12,"color":"#78ebde"},{"offset":0.13,"color":"#10655e"},{"offset":0.14,"color":"#78ebde"},{"offset":0.15,"color":"#10655e"},{"offset":0.16,"color":"#78ebde"},{"offset":0.17,"color":"#10655e"},{"offset":0.18,"color":"#78ebde"},{"offset":0.19,"color":"#10655e"},{"offset":0.2,"color":"#78ebde"},{"offset":0.21,"color":"#10655e"},{"offset":0.22,"color":"#78ebde"},{"offset":0.23,"color":"#10655e"},{"offset":0.24,"color":"#78ebde"},{"offset":0.25,"color":"#10655e"},{"offset":0.26,"color":"#78ebde"},{"offset":0.27,"color":"#10655e"},{"offset":0.28,"color":"#78ebde"},{"offset":0.29,"color":"#10655e"},{"offset":0.3,"color":"#78ebde"},{"offset":0.31,"color":"#10655e"},{"offset":0.32,"color":"#78ebde"},{"offset":0.33,"color":"#10655e"},{"offset":0.34,"color":"#78ebde"},{"offset":0.35,"color":"#10655e"},{"offset":0.36,"color":"#78ebde"},{"offset":0.37,"color":"#10655e"},{"offset":0.38,"color":"#78ebde"},{"offset":0.39,"color":"#10655e"},{"offset":0.4,"color":"#78ebde"},{"offset":0.41,"color":"#10655e"},{"offset":0.42,"color":"#78ebde"},{"offset":0.43,"color":"#10655e"},{"offset":0.44,"color":"#78ebde"},{"offset":0.45,"color":"#10655e"},{"offset":0.46,"color":"#78ebde"},{"offset":0.47,"color":"#10655e"},{"offset":0.48,"color":"#78ebde"},{"offset":0.49,"color":"#10655e"},{"offset":0.5,"color":"#78ebde"},{"offset":0.51,"color":"#10655e"},{"offset":0.52,"color":"#78ebde"},{"offset":0.53,"color":"#10655e"},{"offset":0.54,"color":"#78ebde"},{"offset":0.55,"color":"#10655e"},{"offset":0.56,"color":"#78ebde"},{"offset":0.57,"color":"#10655e"},{"offset":0.58,"color":"#78ebde"},{"offset":0.59,"color":"#10655e"},{"offset":0.6,"color":"#78ebde"},{"offset":0.61,"color":"#10655e"},{"offset":0.62,"color":"#78ebde"},{"offset":0.63,"color":"#10655e"},{"offset":0.64,"color":"#78ebde"},{"offset":0.65,"color":"#10655e"},{"offset":0.66,"color":"#78ebde"},{"offset":0.67,"color":"#10655e"},{"offset":0.68,"color":"#78ebde"},{"offset":0.69,"color":"#10655e"},{"offset":0.7,"color":"#78ebde"},{"offset":0.71,"color":"#10655e"},{"offset":0.72,"color":"#78ebde"},{"offset":0.73,"color":"#10655e"},{"offset":0.74,"color":"#78ebde"},{"offset":0.75,"color":"#10655e"},{"offset":0.76,"color":"#78ebde"},{"offset":0.77,"color":"#10655e"},{"offset":0.78,"color":"#78ebde"},{"offset":0.79,"color":"#10655e"},{"offset":0.8,"color":"#78ebde"},{"offset":0.81,"color":"#10655e"},{"offset":0.82,"color":"#78ebde"},{"offset":0.83,"color":"#10655e"},{"offset":0.84,"color":"#78ebde"},{"offset":0.85,"color":"#10655e"},{"offset":0.86,"color":"#78ebde"},{"offset":0.87,"color":"#10655e"},{"offset":0.88,"color":"#78ebde"},{"offset":0.89,"color":"#10655e"},{"offset":0.9,"color":"#78ebde"},{"offset":0.91,"color":"#10655e"},{"offset":0.92,"color":"#78ebde"},{"offset":0.93,"color":"#10655e"},{"offset":0.94,"color":"#78ebde"},{"offset":0.95,"color":"#10655e"},{"offset":0.96,"color":"#78ebde"},{"offset":0.97,"color":"#10655e"},{"offset":0.98,"color":"#78ebde"},{"offset":0.99,"color":"#10655e"},{"offset":1,"color":"#78ebde"}]}},"encoding":{"detail":{"field":"s"}}},
  {"data":{"name":"c"},"transform":[{"filter":"datum.p==='b' && (datum.s==='m1' || datum.s==='m2')"}],"mark":{"type":"area","interpolate":"monotone","stroke":"#2a0518","strokeWidth":0.6,"fill":{"gradient":"linear","x1":0,"y1":0,"x2":1.1,"y2":0.88,"stops":[{"offset":0,"color":"#eb1e8c"},{"offset":0.01,"color":"#250214"},{"offset":0.02,"color":"#eb1e8c"},{"offset":0.03,"color":"#250214"},{"offset":0.04,"color":"#eb1e8c"},{"offset":0.05,"color":"#250214"},{"offset":0.06,"color":"#eb1e8c"},{"offset":0.07,"color":"#250214"},{"offset":0.08,"color":"#eb1e8c"},{"offset":0.09,"color":"#250214"},{"offset":0.1,"color":"#eb1e8c"},{"offset":0.11,"color":"#250214"},{"offset":0.12,"color":"#eb1e8c"},{"offset":0.13,"color":"#250214"},{"offset":0.14,"color":"#eb1e8c"},{"offset":0.15,"color":"#250214"},{"offset":0.16,"color":"#eb1e8c"},{"offset":0.17,"color":"#250214"},{"offset":0.18,"color":"#eb1e8c"},{"offset":0.19,"color":"#250214"},{"offset":0.2,"color":"#eb1e8c"},{"offset":0.21,"color":"#250214"},{"offset":0.22,"color":"#eb1e8c"},{"offset":0.23,"color":"#250214"},{"offset":0.24,"color":"#eb1e8c"},{"offset":0.25,"color":"#250214"},{"offset":0.26,"color":"#eb1e8c"},{"offset":0.27,"color":"#250214"},{"offset":0.28,"color":"#eb1e8c"},{"offset":0.29,"color":"#250214"},{"offset":0.3,"color":"#eb1e8c"},{"offset":0.31,"color":"#250214"},{"offset":0.32,"color":"#eb1e8c"},{"offset":0.33,"color":"#250214"},{"offset":0.34,"color":"#eb1e8c"},{"offset":0.35,"color":"#250214"},{"offset":0.36,"color":"#eb1e8c"},{"offset":0.37,"color":"#250214"},{"offset":0.38,"color":"#eb1e8c"},{"offset":0.39,"color":"#250214"},{"offset":0.4,"color":"#eb1e8c"},{"offset":0.41,"color":"#250214"},{"offset":0.42,"color":"#eb1e8c"},{"offset":0.43,"color":"#250214"},{"offset":0.44,"color":"#eb1e8c"},{"offset":0.45,"color":"#250214"},{"offset":0.46,"color":"#eb1e8c"},{"offset":0.47,"color":"#250214"},{"offset":0.48,"color":"#eb1e8c"},{"offset":0.49,"color":"#250214"},{"offset":0.5,"color":"#eb1e8c"},{"offset":0.51,"color":"#250214"},{"offset":0.52,"color":"#eb1e8c"},{"offset":0.53,"color":"#250214"},{"offset":0.54,"color":"#eb1e8c"},{"offset":0.55,"color":"#250214"},{"offset":0.56,"color":"#eb1e8c"},{"offset":0.57,"color":"#250214"},{"offset":0.58,"color":"#eb1e8c"},{"offset":0.59,"color":"#250214"},{"offset":0.6,"color":"#eb1e8c"},{"offset":0.61,"color":"#250214"},{"offset":0.62,"color":"#eb1e8c"},{"offset":0.63,"color":"#250214"},{"offset":0.64,"color":"#eb1e8c"},{"offset":0.65,"color":"#250214"},{"offset":0.66,"color":"#eb1e8c"},{"offset":0.67,"color":"#250214"},{"offset":0.68,"color":"#eb1e8c"},{"offset":0.69,"color":"#250214"},{"offset":0.7,"color":"#eb1e8c"},{"offset":0.71,"color":"#250214"},{"offset":0.72,"color":"#eb1e8c"},{"offset":0.73,"color":"#250214"},{"offset":0.74,"color":"#eb1e8c"},{"offset":0.75,"color":"#250214"},{"offset":0.76,"color":"#eb1e8c"},{"offset":0.77,"color":"#250214"},{"offset":0.78,"color":"#eb1e8c"},{"offset":0.79,"color":"#250214"},{"offset":0.8,"color":"#eb1e8c"},{"offset":0.81,"color":"#250214"},{"offset":0.82,"color":"#eb1e8c"},{"offset":0.83,"color":"#250214"},{"offset":0.84,"color":"#eb1e8c"},{"offset":0.85,"color":"#250214"},{"offset":0.86,"color":"#eb1e8c"},{"offset":0.87,"color":"#250214"},{"offset":0.88,"color":"#eb1e8c"},{"offset":0.89,"color":"#250214"},{"offset":0.9,"color":"#eb1e8c"},{"offset":0.91,"color":"#250214"},{"offset":0.92,"color":"#eb1e8c"},{"offset":0.93,"color":"#250214"},{"offset":0.94,"color":"#eb1e8c"},{"offset":0.95,"color":"#250214"},{"offset":0.96,"color":"#eb1e8c"},{"offset":0.97,"color":"#250214"},{"offset":0.98,"color":"#eb1e8c"},{"offset":0.99,"color":"#250214"},{"offset":1,"color":"#eb1e8c"}]}},"encoding":{"detail":{"field":"s"}}},
  {"data":{"name":"c"},"transform":[{"filter":"datum.p==='b' && datum.s==='exp'"}],"mark":{"type":"line","interpolate":"monotone","color":"#111","strokeWidth":1.1},"encoding":{}},
  {"data":{"name":"c"},"transform":[{"filter":"datum.p==='b' && datum.s==='env'"}],"mark":{"type":"line","interpolate":"monotone","color":"#7b4fe6","strokeWidth":1.5},"encoding":{}},
  {"data":{"name":"r"},"transform":[{"filter":"datum.p==='b'"}],"mark":{"type":"rule","color":"#333","strokeWidth":1.2},"encoding":{"x2":{"field":"e2"},"y2":{"field":"v2"}}},
  {"data":{"name":"r"},"transform":[{"filter":"datum.p==='b'"}],"mark":{"type":"point","shape":"triangle-down","filled":true,"color":"#222","opacity":1,"size":30,"angle":332},"encoding":{"x":{"field":"e2","type":"quantitative","title":"Blinding energy (eV)","scale":{"domain":[378.2,364],"nice":false,"zero":false}},"y":{"field":"v2","type":"quantitative","title":"Intensity ( arbit. unit.)","scale":{"domain":[0,100],"nice":false}}}},
  {"data":{"name":"n"},"transform":[{"filter":"datum.p==='b'"}],"mark":{"type":"text","font":"Liberation Serif","fontWeight":"bold","fontSize":15,"color":"#111"},"encoding":{"text":{"field":"t"}}}
 ]
},
{
 "width": 289, "height": 404,
 "encoding": {
  "x": {"field":"e","type":"quantitative","scale":{"domain":[378,364],"nice":false,"zero":false},"axis":{"title":"Blinding energy (eV)","values":[364,365,366,367,368,369,370,371,372,373,374,375,376,377,378],"labelExpr":"datum.value % 2 === 0 ? datum.label : ''","format":"d","tickSize":{"condition":{"test":"datum.value % 2 === 0","value":6},"value":4},"labelPadding":8,"titlePadding":15,"titleFontSize":16,"labelFont":"Liberation Serif","titleFont":"Liberation Serif","labelOverlap":false,"labelAlign":{"condition":{"test":"datum.value === 364","value":"right"},"value":"center"}}},
  "y": {"field":"v","type":"quantitative","stack":null,"scale":{"domain":[0,100],"nice":false},"axis":{"title":"Intensity ( arbit. unit.)","labels":false,"ticks":false,"titleFont":"DejaVu Serif","titleFontSize":16,"titlePadding":18.5}}
 },
 "layer": [
  {"data":{"name":"c"},"transform":[{"filter":"datum.p==='c' && (datum.s==='t1' || datum.s==='t2')"}],"mark":{"type":"area","interpolate":"monotone","stroke":"#1f4a45","strokeWidth":0.6,"fill":{"gradient":"linear","x1":0,"y1":0,"x2":1.1,"y2":0.88,"stops":[{"offset":0,"color":"#78ebde"},{"offset":0.01,"color":"#10655e"},{"offset":0.02,"color":"#78ebde"},{"offset":0.03,"color":"#10655e"},{"offset":0.04,"color":"#78ebde"},{"offset":0.05,"color":"#10655e"},{"offset":0.06,"color":"#78ebde"},{"offset":0.07,"color":"#10655e"},{"offset":0.08,"color":"#78ebde"},{"offset":0.09,"color":"#10655e"},{"offset":0.1,"color":"#78ebde"},{"offset":0.11,"color":"#10655e"},{"offset":0.12,"color":"#78ebde"},{"offset":0.13,"color":"#10655e"},{"offset":0.14,"color":"#78ebde"},{"offset":0.15,"color":"#10655e"},{"offset":0.16,"color":"#78ebde"},{"offset":0.17,"color":"#10655e"},{"offset":0.18,"color":"#78ebde"},{"offset":0.19,"color":"#10655e"},{"offset":0.2,"color":"#78ebde"},{"offset":0.21,"color":"#10655e"},{"offset":0.22,"color":"#78ebde"},{"offset":0.23,"color":"#10655e"},{"offset":0.24,"color":"#78ebde"},{"offset":0.25,"color":"#10655e"},{"offset":0.26,"color":"#78ebde"},{"offset":0.27,"color":"#10655e"},{"offset":0.28,"color":"#78ebde"},{"offset":0.29,"color":"#10655e"},{"offset":0.3,"color":"#78ebde"},{"offset":0.31,"color":"#10655e"},{"offset":0.32,"color":"#78ebde"},{"offset":0.33,"color":"#10655e"},{"offset":0.34,"color":"#78ebde"},{"offset":0.35,"color":"#10655e"},{"offset":0.36,"color":"#78ebde"},{"offset":0.37,"color":"#10655e"},{"offset":0.38,"color":"#78ebde"},{"offset":0.39,"color":"#10655e"},{"offset":0.4,"color":"#78ebde"},{"offset":0.41,"color":"#10655e"},{"offset":0.42,"color":"#78ebde"},{"offset":0.43,"color":"#10655e"},{"offset":0.44,"color":"#78ebde"},{"offset":0.45,"color":"#10655e"},{"offset":0.46,"color":"#78ebde"},{"offset":0.47,"color":"#10655e"},{"offset":0.48,"color":"#78ebde"},{"offset":0.49,"color":"#10655e"},{"offset":0.5,"color":"#78ebde"},{"offset":0.51,"color":"#10655e"},{"offset":0.52,"color":"#78ebde"},{"offset":0.53,"color":"#10655e"},{"offset":0.54,"color":"#78ebde"},{"offset":0.55,"color":"#10655e"},{"offset":0.56,"color":"#78ebde"},{"offset":0.57,"color":"#10655e"},{"offset":0.58,"color":"#78ebde"},{"offset":0.59,"color":"#10655e"},{"offset":0.6,"color":"#78ebde"},{"offset":0.61,"color":"#10655e"},{"offset":0.62,"color":"#78ebde"},{"offset":0.63,"color":"#10655e"},{"offset":0.64,"color":"#78ebde"},{"offset":0.65,"color":"#10655e"},{"offset":0.66,"color":"#78ebde"},{"offset":0.67,"color":"#10655e"},{"offset":0.68,"color":"#78ebde"},{"offset":0.69,"color":"#10655e"},{"offset":0.7,"color":"#78ebde"},{"offset":0.71,"color":"#10655e"},{"offset":0.72,"color":"#78ebde"},{"offset":0.73,"color":"#10655e"},{"offset":0.74,"color":"#78ebde"},{"offset":0.75,"color":"#10655e"},{"offset":0.76,"color":"#78ebde"},{"offset":0.77,"color":"#10655e"},{"offset":0.78,"color":"#78ebde"},{"offset":0.79,"color":"#10655e"},{"offset":0.8,"color":"#78ebde"},{"offset":0.81,"color":"#10655e"},{"offset":0.82,"color":"#78ebde"},{"offset":0.83,"color":"#10655e"},{"offset":0.84,"color":"#78ebde"},{"offset":0.85,"color":"#10655e"},{"offset":0.86,"color":"#78ebde"},{"offset":0.87,"color":"#10655e"},{"offset":0.88,"color":"#78ebde"},{"offset":0.89,"color":"#10655e"},{"offset":0.9,"color":"#78ebde"},{"offset":0.91,"color":"#10655e"},{"offset":0.92,"color":"#78ebde"},{"offset":0.93,"color":"#10655e"},{"offset":0.94,"color":"#78ebde"},{"offset":0.95,"color":"#10655e"},{"offset":0.96,"color":"#78ebde"},{"offset":0.97,"color":"#10655e"},{"offset":0.98,"color":"#78ebde"},{"offset":0.99,"color":"#10655e"},{"offset":1,"color":"#78ebde"}]}},"encoding":{"detail":{"field":"s"}}},
  {"data":{"name":"c"},"transform":[{"filter":"datum.p==='c' && (datum.s==='m1' || datum.s==='m2')"}],"mark":{"type":"area","interpolate":"monotone","stroke":"#2a0518","strokeWidth":0.6,"fill":{"gradient":"linear","x1":0,"y1":0,"x2":1.1,"y2":0.88,"stops":[{"offset":0,"color":"#eb1e8c"},{"offset":0.01,"color":"#250214"},{"offset":0.02,"color":"#eb1e8c"},{"offset":0.03,"color":"#250214"},{"offset":0.04,"color":"#eb1e8c"},{"offset":0.05,"color":"#250214"},{"offset":0.06,"color":"#eb1e8c"},{"offset":0.07,"color":"#250214"},{"offset":0.08,"color":"#eb1e8c"},{"offset":0.09,"color":"#250214"},{"offset":0.1,"color":"#eb1e8c"},{"offset":0.11,"color":"#250214"},{"offset":0.12,"color":"#eb1e8c"},{"offset":0.13,"color":"#250214"},{"offset":0.14,"color":"#eb1e8c"},{"offset":0.15,"color":"#250214"},{"offset":0.16,"color":"#eb1e8c"},{"offset":0.17,"color":"#250214"},{"offset":0.18,"color":"#eb1e8c"},{"offset":0.19,"color":"#250214"},{"offset":0.2,"color":"#eb1e8c"},{"offset":0.21,"color":"#250214"},{"offset":0.22,"color":"#eb1e8c"},{"offset":0.23,"color":"#250214"},{"offset":0.24,"color":"#eb1e8c"},{"offset":0.25,"color":"#250214"},{"offset":0.26,"color":"#eb1e8c"},{"offset":0.27,"color":"#250214"},{"offset":0.28,"color":"#eb1e8c"},{"offset":0.29,"color":"#250214"},{"offset":0.3,"color":"#eb1e8c"},{"offset":0.31,"color":"#250214"},{"offset":0.32,"color":"#eb1e8c"},{"offset":0.33,"color":"#250214"},{"offset":0.34,"color":"#eb1e8c"},{"offset":0.35,"color":"#250214"},{"offset":0.36,"color":"#eb1e8c"},{"offset":0.37,"color":"#250214"},{"offset":0.38,"color":"#eb1e8c"},{"offset":0.39,"color":"#250214"},{"offset":0.4,"color":"#eb1e8c"},{"offset":0.41,"color":"#250214"},{"offset":0.42,"color":"#eb1e8c"},{"offset":0.43,"color":"#250214"},{"offset":0.44,"color":"#eb1e8c"},{"offset":0.45,"color":"#250214"},{"offset":0.46,"color":"#eb1e8c"},{"offset":0.47,"color":"#250214"},{"offset":0.48,"color":"#eb1e8c"},{"offset":0.49,"color":"#250214"},{"offset":0.5,"color":"#eb1e8c"},{"offset":0.51,"color":"#250214"},{"offset":0.52,"color":"#eb1e8c"},{"offset":0.53,"color":"#250214"},{"offset":0.54,"color":"#eb1e8c"},{"offset":0.55,"color":"#250214"},{"offset":0.56,"color":"#eb1e8c"},{"offset":0.57,"color":"#250214"},{"offset":0.58,"color":"#eb1e8c"},{"offset":0.59,"color":"#250214"},{"offset":0.6,"color":"#eb1e8c"},{"offset":0.61,"color":"#250214"},{"offset":0.62,"color":"#eb1e8c"},{"offset":0.63,"color":"#250214"},{"offset":0.64,"color":"#eb1e8c"},{"offset":0.65,"color":"#250214"},{"offset":0.66,"color":"#eb1e8c"},{"offset":0.67,"color":"#250214"},{"offset":0.68,"color":"#eb1e8c"},{"offset":0.69,"color":"#250214"},{"offset":0.7,"color":"#eb1e8c"},{"offset":0.71,"color":"#250214"},{"offset":0.72,"color":"#eb1e8c"},{"offset":0.73,"color":"#250214"},{"offset":0.74,"color":"#eb1e8c"},{"offset":0.75,"color":"#250214"},{"offset":0.76,"color":"#eb1e8c"},{"offset":0.77,"color":"#250214"},{"offset":0.78,"color":"#eb1e8c"},{"offset":0.79,"color":"#250214"},{"offset":0.8,"color":"#eb1e8c"},{"offset":0.81,"color":"#250214"},{"offset":0.82,"color":"#eb1e8c"},{"offset":0.83,"color":"#250214"},{"offset":0.84,"color":"#eb1e8c"},{"offset":0.85,"color":"#250214"},{"offset":0.86,"color":"#eb1e8c"},{"offset":0.87,"color":"#250214"},{"offset":0.88,"color":"#eb1e8c"},{"offset":0.89,"color":"#250214"},{"offset":0.9,"color":"#eb1e8c"},{"offset":0.91,"color":"#250214"},{"offset":0.92,"color":"#eb1e8c"},{"offset":0.93,"color":"#250214"},{"offset":0.94,"color":"#eb1e8c"},{"offset":0.95,"color":"#250214"},{"offset":0.96,"color":"#eb1e8c"},{"offset":0.97,"color":"#250214"},{"offset":0.98,"color":"#eb1e8c"},{"offset":0.99,"color":"#250214"},{"offset":1,"color":"#eb1e8c"}]}},"encoding":{"detail":{"field":"s"}}},
  {"data":{"name":"c"},"transform":[{"filter":"datum.p==='c' && datum.s==='exp'"}],"mark":{"type":"line","interpolate":"monotone","color":"#111","strokeWidth":1.1},"encoding":{}},
  {"data":{"name":"c"},"transform":[{"filter":"datum.p==='c' && datum.s==='env'"}],"mark":{"type":"line","interpolate":"monotone","color":"#7b4fe6","strokeWidth":1.5},"encoding":{}},
  {"data":{"name":"r"},"transform":[{"filter":"datum.p==='c'"}],"mark":{"type":"rule","color":"#333","strokeWidth":1.2},"encoding":{"x2":{"field":"e2"},"y2":{"field":"v2"}}},
  {"data":{"name":"r"},"transform":[{"filter":"datum.p==='c'"}],"mark":{"type":"point","shape":"triangle-down","filled":true,"color":"#222","opacity":1,"size":30,"angle":332},"encoding":{"x":{"field":"e2","type":"quantitative","title":"Blinding energy (eV)","scale":{"domain":[378,364],"nice":false,"zero":false}},"y":{"field":"v2","type":"quantitative","title":"Intensity ( arbit. unit.)","scale":{"domain":[0,100],"nice":false}}}},
  {"data":{"name":"n"},"transform":[{"filter":"datum.p==='c'"}],"mark":{"type":"text","font":"Liberation Serif","fontWeight":"bold","fontSize":15,"color":"#111"},"encoding":{"text":{"field":"t"}}}
 ]
}
]
}
